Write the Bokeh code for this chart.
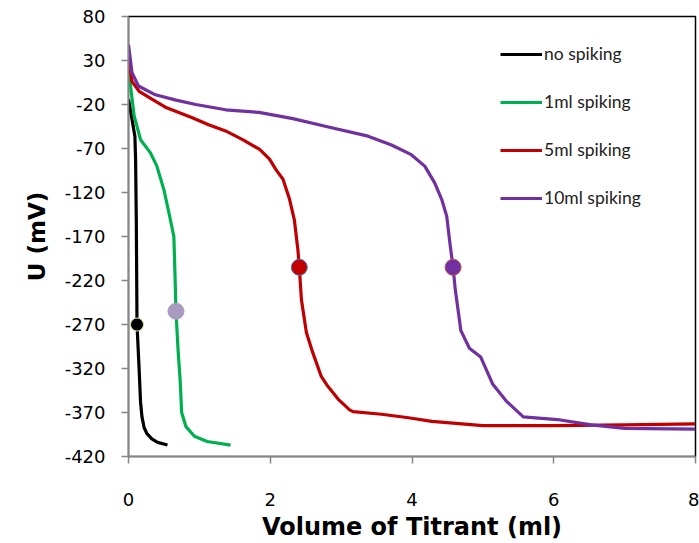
from bokeh.plotting import figure
from bokeh.models import FixedTicker, Legend, LegendItem
from bokeh.embed import file_html
from bokeh.resources import INLINE

# Titration curves: volume of titrant (ml) vs potential U (mV)
vol_none = [0.0, 0.05, 0.09, 0.10, 0.11, 0.12, 0.15, 0.17, 0.19, 0.22, 0.26, 0.33, 0.41, 0.55]
u_none = [-14, -37, -56, -82, -150, -270, -321, -358, -375, -387, -394, -400, -404, -407]

vol_1ml = [0.0, 0.03, 0.08, 0.17, 0.31, 0.40, 0.50, 0.57, 0.64, 0.66, 0.67, 0.70, 0.73,
           0.75, 0.81, 0.93, 1.11, 1.44]
u_1ml = [22, 0, -33, -60, -75, -90, -117, -143, -170, -225, -255, -300, -335,
         -370, -386, -397, -403, -407]

vol_5ml = [0.0, 0.05, 0.15, 0.33, 0.52, 0.71, 0.90, 1.13, 1.37, 1.61, 1.85, 1.99, 2.08,
           2.18, 2.27, 2.34, 2.39, 2.41, 2.44, 2.51, 2.60, 2.72, 2.81, 2.96, 3.12, 3.17,
           3.57, 3.95, 4.28, 5.0, 6.0, 7.0, 8.0]
u_5ml = [29, 6, -5, -14, -23, -29, -35, -43, -50, -60, -71, -82, -94,
         -105, -127, -151, -185, -205, -242, -279, -302, -329, -340, -355, -367, -369,
         -372, -376, -380, -385, -385, -384, -383]

vol_10ml = [0.0, 0.05, 0.14, 0.38, 0.67, 0.95, 1.37, 1.84, 2.32, 2.79, 3.38, 3.71, 3.99,
            4.18, 4.32, 4.42, 4.49, 4.54, 4.58, 4.61, 4.69, 4.81, 4.97, 5.14, 5.33, 5.57,
            6.05, 6.53, 7.0, 8.0]
u_10ml = [48, 16, 1, -9, -15, -20, -26, -29, -36, -45, -56, -66, -77,
          -90, -109, -128, -147, -181, -205, -230, -277, -297, -307, -338, -357, -375,
          -378, -384, -388, -389]

# Equivalence points
eq_vol = [0.12, 0.67, 2.41, 4.58]
eq_u = [-270, -255, -205, -205]

labels = ["no spiking", "1ml spiking", "5ml spiking", "10ml spiking"]
colors = ["#000000", "#00B050", "#C00000", "#7030A0"]
eq_fill = ["#000000", "#A99BC0", "#C00000", "#7030A0"]
eq_edge = ["#D8E0A0", "#A99BC0", "#4F6FB0", "#C0504D"]
eq_size = [13, 16, 16, 16]

y_ticks = list(range(-420, 81, 50))
x_ticks = [0, 2, 4, 6, 8]

p = figure(width=699, height=543, output_backend="svg", toolbar_location=None,
           x_range=(0, 8), y_range=(-420, 80),
           min_border_left=128, min_border_right=4, min_border_top=16, min_border_bottom=86)

p.grid.visible = False
p.outline_line_color = "#000000"
p.outline_line_width = 1.5
p.background_fill_color = "white"
p.border_fill_color = "white"

series = [(vol_none, u_none), (vol_1ml, u_1ml), (vol_5ml, u_5ml), (vol_10ml, u_10ml)]
renderers = []
for (xs, ys), c in zip(series, colors):
    r = p.line(xs, ys, line_color=c, line_width=3.2, line_join="round")
    renderers.append(r)

for xv, yv, f, e, s in zip(eq_vol, eq_u, eq_fill, eq_edge, eq_size):
    p.scatter([xv], [yv], size=s, fill_color=f, line_color=e, line_width=1)

# Axes
for ax in (p.xaxis, p.yaxis):
    ax.axis_line_color = "#868686"
    ax.axis_line_width = 1.5
    ax.major_tick_line_color = "#868686"
    ax.major_tick_line_width = 1.5
    ax.major_tick_in = 0
    ax.minor_tick_line_color = None
    ax.major_label_text_font = "DejaVu Sans"
    ax.major_label_text_font_size = "18px"
    ax.major_label_text_color = "#000000"
    ax.axis_label_text_font = "DejaVu Sans"
    ax.axis_label_text_font_style = "bold"
    ax.axis_label_text_color = "#000000"

p.xaxis.ticker = FixedTicker(ticks=x_ticks)
p.yaxis.ticker = FixedTicker(ticks=y_ticks)
p.yaxis.major_label_overrides = {t: str(t) for t in y_ticks}
p.xaxis.major_tick_out = 7
p.yaxis.major_tick_out = 7
p.xaxis.major_label_standoff = 29
p.yaxis.major_label_standoff = 16
p.xaxis.axis_label = "Volume of Titrant (ml)"
p.yaxis.axis_label = "U (mV)"
p.xaxis.axis_label_text_font_size = "24px"
p.yaxis.axis_label_text_font_size = "23px"
p.xaxis.axis_label_standoff = 4
p.yaxis.axis_label_standoff = 12

legend = Legend(items=[LegendItem(label=l, renderers=[r]) for l, r in zip(labels, renderers)],
                location=(372, 248), orientation="vertical",
                border_line_color=None, background_fill_alpha=0,
                padding=0, margin=0, spacing=27,
                glyph_width=42, glyph_height=20, label_height=20,
                label_standoff=2,
                label_text_font="Lato", label_text_font_size="17.5px",
                label_text_color="#222222")
p.add_layout(legend)

open("out.html", "w").write(file_html(p, INLINE))
